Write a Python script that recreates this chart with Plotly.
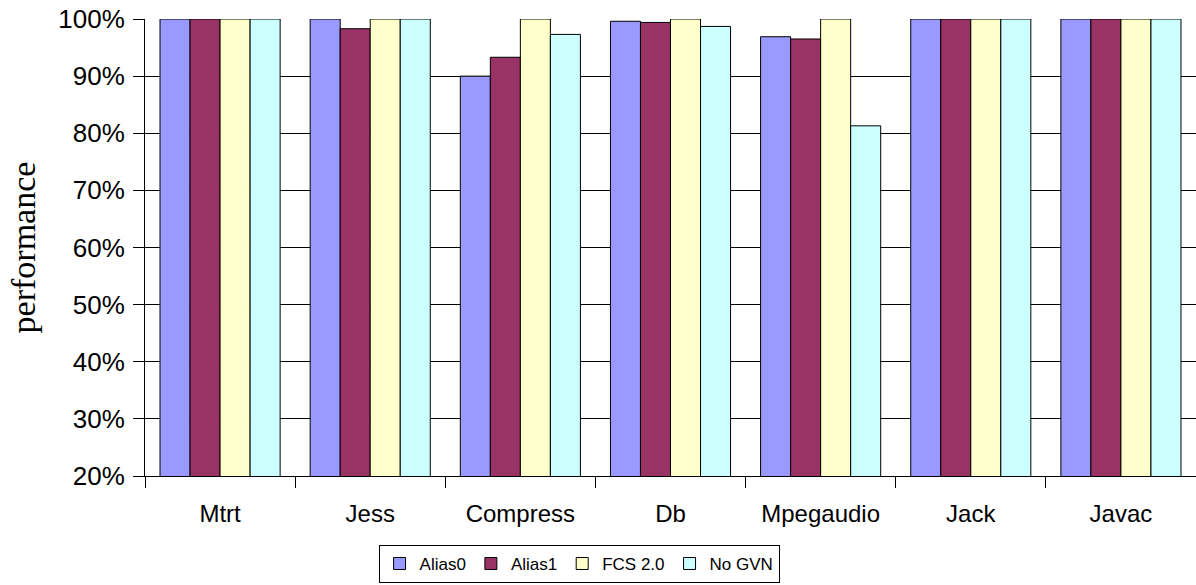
import plotly.graph_objects as go

categories = ["Mtrt", "Jess", "Compress", "Db", "Mpegaudio", "Jack", "Javac"]
alias0 = [1.000, 1.000, 0.900, 0.996, 0.969, 1.000, 1.000]
alias1 = [1.000, 0.983, 0.933, 0.994, 0.965, 1.000, 1.000]
fcs20 = [1.000, 1.000, 1.000, 1.000, 1.000, 1.000, 1.000]
nogvn = [1.000, 1.000, 0.973, 0.987, 0.813, 1.000, 1.000]
series_names = ["Alias0", "Alias1", "FCS 2.0", "No GVN"]
colors = ["#9999FF", "#993366", "#FFFFCC", "#CCFFFF"]
ytick_vals = [0.2, 0.3, 0.4, 0.5, 0.6, 0.7, 0.8, 0.9, 1.0]

fig = go.Figure()
for name, vals, col in zip(series_names, [alias0, alias1, fcs20, nogvn], colors):
    fig.add_trace(go.Bar(
        x=categories, y=vals, name=name,
        marker=dict(color=col, line=dict(color="black", width=1)),
    ))

fig.update_layout(
    width=1196, height=585,
    margin=dict(l=145, r=0, t=19, b=109, autoexpand=False),
    paper_bgcolor="white", plot_bgcolor="white",
    barmode="group", bargap=0.2, bargroupgap=0,
    font=dict(family="Liberation Sans, Arial", color="black"),
    showlegend=True,
    legend=dict(
        orientation="h", x=0.413, xanchor="center", y=-0.234, yanchor="bottom",
        bordercolor="black", borderwidth=1, bgcolor="white",
        font=dict(size=17, family="Liberation Sans, Arial"),
        traceorder="normal", itemwidth=30,
    ),
    xaxis=dict(
        showline=True, linecolor="black", linewidth=1,
        ticks="outside", ticklen=11, tickcolor="black", tickson="boundaries",
        tickfont=dict(size=24), showgrid=False, ticklabelstandoff=16,
    ),
    yaxis=dict(
        range=[0.2, 1.0], tickvals=ytick_vals, tickformat=".0%",
        showline=True, linecolor="black", linewidth=1,
        ticks="outside", ticklen=11, tickcolor="black",
        showgrid=True, gridcolor="black", gridwidth=1,
        tickfont=dict(size=26), ticklabelstandoff=3,
        title=dict(text="performance", font=dict(family="Liberation Serif, Times New Roman", size=34), standoff=12),
        zeroline=False,
    ),
)

fig.write_html("out.html")
